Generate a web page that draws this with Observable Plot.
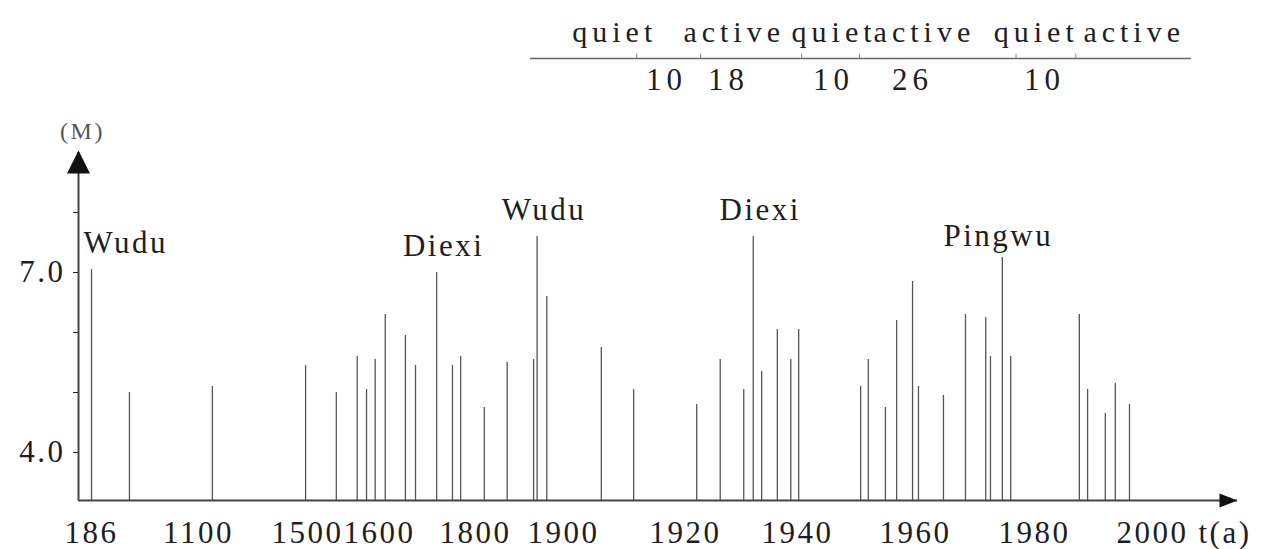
<!DOCTYPE html>
<html><head><meta charset="utf-8">
<script src="https://cdn.jsdelivr.net/npm/d3@7"></script>
<script src="https://cdn.jsdelivr.net/npm/@observablehq/plot@0.6"></script>
<style>
html,body{margin:0;padding:0;background:#fff;overflow:hidden;}
#chart svg{display:block;}
.main text{letter-spacing:2.5px;}
.annot text{letter-spacing:5px;}
</style></head><body><div id="chart"></div>
<script>
// ---- data ----
const eventYears = [186, 510, 1151, 1493, 1540, 1569, 1582, 1594, 1612, 1654, 1675, 1719, 1752, 1769,
  1810, 1836, 1866, 1870, 1881, 1906.2, 1911.5, 1922, 1926.2, 1930.4, 1932.1, 1933.6, 1936.4, 1938.8,
  1940.2, 1950.7, 1952, 1954.9, 1956.8, 1959.5, 1960.5, 1964.7, 1968.4, 1971.8, 1972.6, 1974.6, 1976,
  1987.6, 1989, 1992, 1993.7, 1996.1];
const eventMagnitudes = [7.05, 5.0, 5.1, 5.45, 5.0, 5.6, 5.05, 5.55, 6.3, 5.95, 5.45, 7.0, 5.45, 5.6,
  4.75, 5.5, 5.55, 7.6, 6.6, 5.75, 5.05, 4.8, 5.55, 5.05, 7.6, 5.35, 6.05, 5.55,
  6.05, 5.1, 5.55, 4.75, 6.2, 6.85, 5.1, 4.95, 6.3, 6.25, 5.6, 7.25, 5.6,
  6.3, 5.05, 4.65, 5.15, 4.8];
const labelNames = ["Wudu", "Diexi", "Wudu", "Diexi", "Pingwu"];
const labelYears = [186, 1719, 1870, 1932.1, 1974.6];

const xTickYears = [186, 1100, 1500, 1600, 1800, 1900, 1920, 1940, 1960, 1980, 2000];
const yTickValues = [4, 5, 6, 7, 8];
const yLabelValues = [4, 7];
const yBase = 3.2, yTop = 9.0;

const periodNames = ["quiet", "active", "quiet", "active", "quiet", "active"];
const periodLabelYears = [1908.4, 1928.7, 1946.2, 1961.5, 1980.3, 1996.9];
const boundaryYears = [1912, 1922.7, 1940.7, 1950.5, 1976.9, 1987];
const durationValues = [10, 18, 10, 26, 10];
const durationLabelYears = [1916.9, 1927.7, 1946.1, 1959.5, 1981.7];
const timelineSpan = [1862.5, 2006.4];

// ---- axis layout (the time axis of the figure is piecewise, not uniform) ----
const xAnchorYears = [75, ...xTickYears, 2014];
const xAnchorPx = [78, 91, 198, 307, 379, 475, 563, 685, 797, 915, 1034, 1152, 1237];

const events = eventYears.map((year, i) => ({year, mag: eventMagnitudes[i]}));
const labels = labelNames.map((name, i) => ({
  name, year: labelYears[i],
  mag: events.find(e => e.year === labelYears[i]).mag
}));
const periods = periodNames.map((name, i) => ({name, year: periodLabelYears[i]}));
const durations = durationValues.map((v, i) => ({v, year: durationLabelYears[i]}));

const serif = "'Liberation Serif', 'Times New Roman', serif";
const ink = "#1e1e1e";
const upTri = {draw(c) { c.moveTo(0, -12); c.lineTo(11.5, 11); c.lineTo(-11.5, 11); c.closePath(); }};
const rightTri = {draw(c) { c.moveTo(9, 0); c.lineTo(-9, 7); c.lineTo(-9, -7); c.closePath(); }};
const tickMark = {draw(c) { c.moveTo(0, -5); c.lineTo(0, 0); }};

const xScale = {type: "linear", domain: xAnchorYears, range: xAnchorPx};

// ---- top annotation: quiet / active periods ----
const annot = Plot.plot({
  className: "annot",
  width: 1270, height: 100,
  marginTop: 34, marginBottom: 20, marginLeft: 78, marginRight: 33,
  style: {fontFamily: serif, fontSize: "30px", color: ink, background: "#fff"},
  x: {...xScale, axis: null},
  y: {type: "point", domain: ["period", "boundary", "length"], padding: 0, axis: null},
  marks: [
    Plot.ruleY(["boundary"], {y: d => d, x1: timelineSpan[0], x2: timelineSpan[1], stroke: "#666", strokeWidth: 1.5, dy: 1}),
    Plot.dot(boundaryYears, {x: d => d, y: () => "boundary", symbol: tickMark, stroke: "#888", fill: "none", strokeWidth: 1, dy: 1}),
    Plot.text(periods, {x: "year", y: () => "period", text: "name", fontSize: 30, fill: ink, fontFamily: serif, dy: -2}),
    Plot.text(durations, {x: "year", y: () => "length", text: d => String(d.v), fontSize: 31, fill: ink, fontFamily: serif})
  ]
});

// ---- main chart ----
const main = Plot.plot({
  className: "main",
  width: 1270, height: 449,
  marginTop: 52, marginBottom: 49, marginLeft: 78, marginRight: 33,
  style: {fontFamily: serif, fontSize: "31px", color: ink, background: "#fff"},
  x: {...xScale, ticks: xTickYears, tickSize: 0, tickPadding: 20, tickFormat: d => String(d), label: null},
  y: {domain: [yBase, yTop], ticks: yTickValues, tickSize: 5, tickPadding: 8,
      tickFormat: d => yLabelValues.includes(d) ? d.toFixed(1) : "", label: null},
  marks: [
    Plot.ruleX(events, {x: "year", y1: yBase, y2: "mag", stroke: "#555", strokeWidth: 1.3}),
    Plot.ruleX([xAnchorYears[0]], {stroke: "#444", strokeWidth: 2}),
    Plot.ruleY([yBase], {stroke: "#444", strokeWidth: 2}),
    Plot.dot([0], {frameAnchor: "top-left", symbol: upTri, fill: "#111", stroke: "none", dy: 10}),
    Plot.dot([0], {frameAnchor: "bottom-right", symbol: rightTri, fill: "#111", stroke: "none", dx: -9}),
    Plot.text(labels.slice(0, 1), {x: "year", y: "mag", text: "name", textAnchor: "start", lineAnchor: "bottom",
      dx: -8, dy: -17, fontSize: 31, fill: ink, fontFamily: serif}),
    Plot.text(labels.slice(1, 4), {x: "year", y: "mag", text: "name", textAnchor: "middle", lineAnchor: "bottom",
      dx: 7, dy: -17, fontSize: 31, fill: ink, fontFamily: serif}),
    Plot.text(labels.slice(4), {x: "year", y: "mag", text: "name", textAnchor: "middle", lineAnchor: "bottom",
      dx: -4, dy: -12, fontSize: 31, fill: ink, fontFamily: serif}),
    Plot.text(["(M)"], {frameAnchor: "top-left", text: d => d, textAnchor: "middle", lineAnchor: "middle",
      dx: 4, dy: -21, fontSize: 24, fill: "#555", fontFamily: serif}),
    Plot.text(["t(a)"], {frameAnchor: "bottom-right", text: d => d, textAnchor: "start", lineAnchor: "top",
      dx: -39, dy: 20, fontSize: 31, fill: ink, fontFamily: serif})
  ]
});

const chart = document.getElementById("chart");
chart.appendChild(annot);
chart.appendChild(main);
</script></body></html>
